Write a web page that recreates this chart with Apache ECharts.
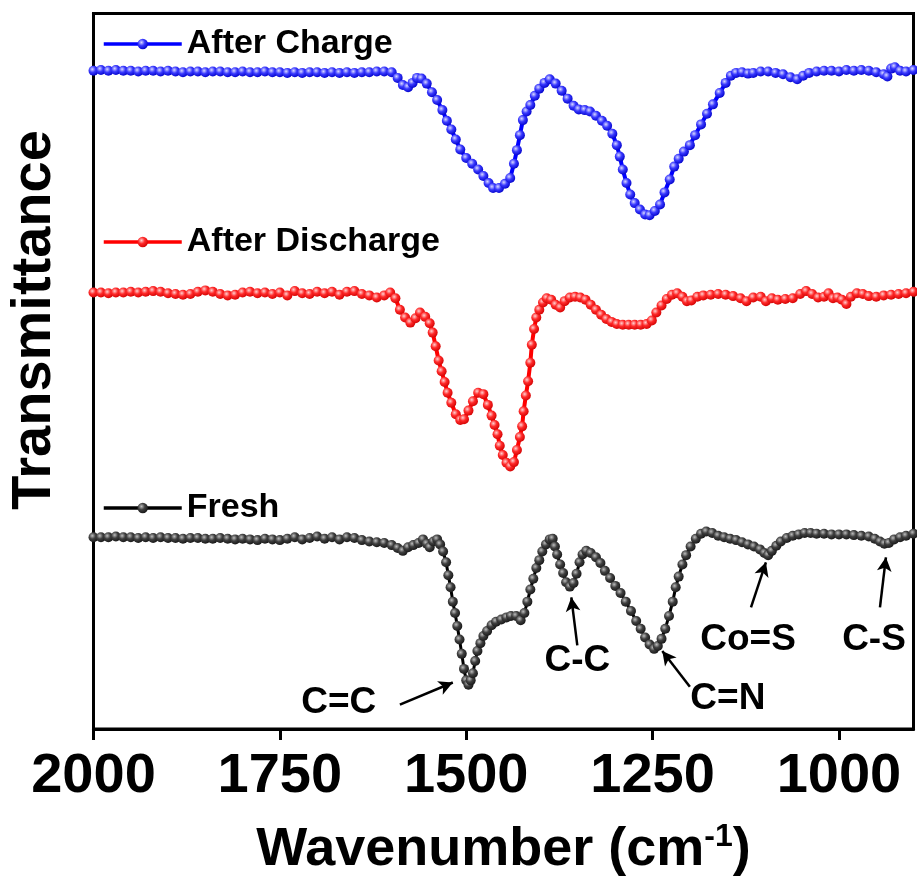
<!DOCTYPE html>
<html>
<head>
<meta charset="utf-8">
<script src="https://cdn.jsdelivr.net/npm/echarts@6/dist/echarts.min.js"></script>
<style>
  html, body { margin: 0; padding: 0; background: #fff; }
  #chart { width: 917px; height: 884px; }
</style>
</head>
<body>
<div id="chart"></div>
<script>
// wavenumber (cm-1) and offset transmittance (a.u.)
const chargeWn = [2000,1990,1980,1970,1960,1950,1940,1930,1920,1910,1900,1890,1880,1870,1860,1850,1840,1830,1820,1810,1800,1790,1780,1770,1760,1750,1740,1730,1720,1710,1700,1690,1680,1670,1660,1650,1640,1630,1620,1610,1600,1592,1585,1578,1572,1566,1560,1553,1546,1539,1532,1526,1520,1514,1508,1500,1492,1484,1477,1470,1464,1456,1448,1441,1436,1432,1428,1424,1419,1414,1408,1402,1395,1388,1380,1372,1364,1356,1349,1341,1334,1326,1318,1311,1304,1298,1294,1290,1285,1280,1274,1267,1260,1254,1247,1240,1234,1227,1221,1215,1208,1200,1193,1185,1177,1169,1160,1152,1145,1138,1130,1122,1115,1105,1095,1085,1075,1065,1056,1048,1040,1030,1020,1010,1000,990,980,970,960,950,940,935,930,925,918,910,900];
const chargeT = [92.0,92.1,92.0,92.1,92.0,92.0,91.9,92.0,92.0,91.9,92.0,91.9,91.8,91.9,91.9,91.8,91.9,91.9,91.8,91.8,91.9,91.8,91.8,91.9,91.8,91.8,91.7,91.8,91.7,91.8,91.8,91.7,91.8,91.7,91.8,91.7,91.8,91.8,91.9,91.9,91.8,91.0,90.0,89.7,90.3,91.0,90.9,90.2,89.0,87.9,86.5,85.0,83.8,82.4,81.0,79.8,79.0,78.2,77.3,76.3,75.6,75.6,76.2,77.0,79.0,80.9,83.0,85.1,86.3,87.2,88.5,89.5,90.3,90.8,90.2,89.2,88.1,87.1,86.6,86.5,86.3,85.7,85.0,84.3,83.2,81.6,80.0,78.2,76.3,74.7,73.5,72.6,71.9,71.8,72.4,73.3,75.0,76.8,78.6,79.7,80.7,81.6,83.0,84.5,86.0,87.3,88.9,90.3,91.3,91.7,91.8,91.6,91.7,91.9,91.9,91.7,91.5,91.1,90.8,91.3,91.7,91.9,92.0,92.0,91.9,92.1,92.0,92.1,92.0,91.8,91.5,91.2,92.3,92.5,92.0,91.9,92.1];

const dischargeWn = [2000,1990,1980,1970,1960,1950,1940,1930,1920,1910,1900,1890,1880,1870,1860,1850,1840,1830,1820,1810,1800,1790,1780,1770,1760,1750,1740,1730,1720,1710,1700,1690,1680,1670,1660,1650,1640,1630,1620,1610,1602,1595,1589,1582,1575,1568,1562,1555,1549,1545,1541,1537,1533,1529,1525,1520,1514,1508,1503,1497,1491,1484,1477,1471,1466,1462,1458,1455,1451,1446,1441,1436,1432,1428,1425,1423,1420,1417,1414,1412,1409,1406,1402,1397,1392,1386,1380,1374,1368,1361,1354,1347,1340,1333,1326,1319,1312,1305,1298,1290,1282,1274,1266,1258,1251,1245,1238,1231,1224,1217,1210,1204,1198,1190,1182,1172,1162,1152,1142,1132,1124,1115,1105,1098,1090,1082,1072,1062,1052,1044,1036,1028,1020,1014,1008,1002,996,990,984,976,968,960,950,940,930,920,910,900];
const dischargeT = [61.0,61.0,60.9,61.0,61.0,61.1,61.0,61.1,61.2,61.1,60.9,60.8,60.7,60.8,61.1,61.3,61.1,60.8,60.6,60.7,61.0,61.1,60.9,61.0,60.8,61.0,60.6,61.2,60.9,60.8,61.1,60.9,61.1,60.7,61.1,61.2,60.8,60.6,60.3,60.6,61.0,60.2,58.6,57.5,56.8,57.4,58.2,57.6,56.7,55.4,53.5,51.5,50.0,48.5,47.0,45.6,44.0,43.2,43.3,44.5,45.8,47.0,46.8,45.3,43.8,42.5,41.2,39.6,38.3,37.2,36.7,37.3,39.0,40.8,42.3,44.4,46.6,48.6,51.2,53.7,55.9,57.5,58.6,59.6,60.2,60.0,59.3,58.9,59.8,60.3,60.4,60.3,60.0,59.3,58.6,57.9,57.3,56.9,56.6,56.5,56.5,56.5,56.5,56.6,57.1,58.2,59.2,60.1,60.7,60.9,60.4,59.8,59.9,60.4,60.6,60.7,60.8,60.7,60.5,60.2,59.8,60.3,60.4,59.8,60.2,60.0,60.1,60.2,60.8,61.2,60.8,60.3,60.4,60.9,60.2,60.3,60.0,59.4,60.4,60.9,60.8,60.5,60.4,60.6,60.7,60.8,60.9,61.1];

const freshWn = [2000,1990,1980,1970,1960,1950,1940,1930,1920,1910,1900,1890,1880,1870,1860,1850,1840,1830,1820,1810,1800,1790,1780,1770,1760,1750,1740,1730,1720,1710,1700,1690,1680,1670,1660,1650,1640,1630,1620,1610,1600,1592,1585,1578,1571,1564,1558,1553,1549,1544,1539,1535,1531,1527,1524,1521,1518,1515,1512,1509,1506,1503,1500,1497,1494,1491,1488,1485,1481,1477,1472,1466,1460,1453,1446,1440,1433,1427,1422,1418,1414,1410,1406,1402,1398,1393,1388,1384,1381,1378,1374,1370,1366,1361,1356,1352,1348,1344,1339,1333,1326,1320,1314,1307,1300,1293,1286,1279,1272,1266,1260,1254,1248,1243,1238,1233,1228,1223,1219,1215,1210,1205,1199,1192,1185,1178,1170,1162,1154,1146,1138,1130,1122,1114,1106,1100,1095,1090,1084,1078,1070,1062,1054,1046,1038,1030,1020,1010,1000,990,980,970,960,952,945,939,933,926,918,910,900];
const freshT = [26.8,26.8,26.8,26.9,26.8,26.8,26.7,26.8,26.7,26.8,26.7,26.7,26.6,26.7,26.7,26.6,26.6,26.7,26.6,26.5,26.6,26.5,26.4,26.6,26.5,26.4,26.6,26.8,26.5,26.7,26.9,26.6,26.8,26.5,26.8,26.7,26.4,26.2,26.1,26.0,25.7,25.3,24.9,25.4,25.7,26.0,26.5,25.9,25.4,26.2,26.5,25.8,24.8,23.3,21.5,19.8,17.8,16.2,14.4,12.5,10.5,8.4,6.8,6.2,6.8,7.8,9.5,10.9,12.0,13.0,13.7,14.5,15.0,15.3,15.6,15.8,15.8,15.2,16.2,17.8,19.5,21.0,22.5,23.6,24.8,25.8,26.5,26.6,25.5,24.4,23.0,21.8,20.5,19.9,20.4,21.7,23.3,24.4,24.9,24.6,24.0,23.2,22.1,21.1,20.0,19.0,17.8,16.5,15.1,14.0,12.8,11.8,11.2,11.6,12.6,14.0,15.8,17.8,19.8,21.3,23.0,24.3,25.5,26.6,27.3,27.6,27.4,27.0,26.8,26.6,26.4,26.1,25.8,25.5,25.1,24.6,24.3,24.9,25.6,26.2,26.7,27.0,27.2,27.4,27.4,27.3,27.3,27.2,27.2,27.2,27.1,27.0,26.9,26.6,26.2,25.9,26.0,26.5,26.8,27.0,27.3];

const xTicks = [2000, 1750, 1500, 1250, 1000];

// peak assignments: label, label position, arrow tail, arrow head (wavenumber, a.u.)
const peakLabels = ["C=C", "C-C", "C=N", "Co=S", "C-S"];
const peakLabelAt = [[1671, 3.6], [1351, 9.5], [1149, 4.2], [1122, 12.5], [953, 12.5]];
const arrowFrom = [[1589, 3.4], [1351, 11.7], [1200, 5.9], [1118, 17.0], [945, 17.0]];
const arrowTo = [[1518, 6.5], [1359, 18.4], [1237, 10.9], [1098, 23.3], [937, 24.0]];

function pairs(xs, ys) {
  return xs.map((x, i) => [x, ys[i]]);
}

function ball(light, mid, dark) {
  return {
    type: "radial",
    x: 0.38,
    y: 0.35,
    r: 0.7,
    colorStops: [
      { offset: 0, color: light },
      { offset: 0.45, color: mid },
      { offset: 1, color: dark },
    ],
  };
}

const font = "Liberation Sans, Arial, sans-serif";

const legendBase = {
  left: 97,
  itemWidth: 78,
  itemHeight: 13,
  itemGap: 0,
  selectedMode: false,
  lineStyle: { width: 3.5 },
  textStyle: { fontSize: 34, fontWeight: "bold", color: "#000", fontFamily: font },
};

const chart = echarts.init(document.getElementById("chart"));
chart.setOption({
  animation: false,
  backgroundColor: "#fff",
  grid: {
    left: 93.5,
    right: 3.5,
    top: 13.5,
    bottom: 155,
    show: true,
    borderColor: "#000",
    borderWidth: 3,
  },
  legend: [
    Object.assign({ data: ["After Charge"], top: 22 }, legendBase),
    Object.assign({ data: ["After Discharge"], top: 220 }, legendBase),
    Object.assign({ data: ["Fresh"], top: 486 }, legendBase),
  ],
  xAxis: {
    type: "value",
    min: 900,
    max: 2000,
    inverse: true,
    name: "{a|Wavenumber (cm}{s|-1}{a|)}",
    nameLocation: "middle",
    nameGap: 92,
    nameTextStyle: {
      rich: {
        a: { fontSize: 54, fontWeight: "bold", color: "#000", fontFamily: font },
        s: { fontSize: 32, fontWeight: "bold", color: "#000", fontFamily: font, padding: [0, 0, 26, 0] },
      },
    },
    axisLine: { show: true, lineStyle: { color: "#000", width: 3 } },
    axisTick: {
      show: true,
      length: 11,
      lineStyle: { color: "#000", width: 3 },
      customValues: xTicks,
    },
    axisLabel: {
      customValues: xTicks,
      formatter: (v) => String(v),
      margin: 20,
      fontSize: 56,
      fontWeight: "bold",
      color: "#000",
      fontFamily: font,
    },
    splitLine: { show: false },
  },
  yAxis: {
    type: "value",
    min: 0,
    max: 100,
    axisLine: { show: true, lineStyle: { color: "#000", width: 3 } },
    axisTick: { show: false },
    axisLabel: { show: false },
    splitLine: { show: false },
  },
  graphic: [
    {
      type: "text",
      x: 35,
      y: 320,
      rotation: Math.PI / 2,
      style: {
        text: "Transmittance",
        fontSize: 56,
        fontWeight: "bold",
        fontFamily: font,
        fill: "#000",
        align: "center",
        verticalAlign: "middle",
      },
    },
  ],
  series: [
    {
      name: "After Charge",
      type: "line",
      data: pairs(chargeWn, chargeT),
      symbol: "circle",
      symbolSize: 10,
      showAllSymbol: true,
      clip: false,
      lineStyle: { color: "#0000ff", width: 4 },
      itemStyle: { color: ball("#d8d8ff", "#3a3aff", "#0000c8") },
    },
    {
      name: "After Discharge",
      type: "line",
      data: pairs(dischargeWn, dischargeT),
      symbol: "circle",
      symbolSize: 10,
      showAllSymbol: true,
      clip: false,
      lineStyle: { color: "#ff0000", width: 4 },
      itemStyle: { color: ball("#ffd0d0", "#ff2a2a", "#d00000") },
    },
    {
      name: "Fresh",
      type: "line",
      data: pairs(freshWn, freshT),
      symbol: "circle",
      symbolSize: 10,
      showAllSymbol: true,
      clip: false,
      lineStyle: { color: "#000", width: 3 },
      itemStyle: { color: ball("#bdbdbd", "#404040", "#141414") },
      markLine: {
        silent: true,
        symbol: ["none", "arrow"],
        symbolSize: [11, 14],
        lineStyle: { color: "#000", width: 2.5, type: "solid" },
        label: { show: false },
        data: arrowFrom.map((p, i) => [{ coord: p }, { coord: arrowTo[i] }]),
      },
      markPoint: {
        silent: true,
        symbol: "circle",
        symbolSize: 1,
        itemStyle: { color: "rgba(0,0,0,0)" },
        label: {
          show: true,
          position: "inside",
          formatter: "{b}",
          fontSize: 37,
          fontWeight: "bold",
          color: "#000",
          fontFamily: font,
        },
        data: peakLabels.map((t, i) => ({ name: t, coord: peakLabelAt[i] })),
      },
    },
  ],
});
</script>
</body>
</html>
